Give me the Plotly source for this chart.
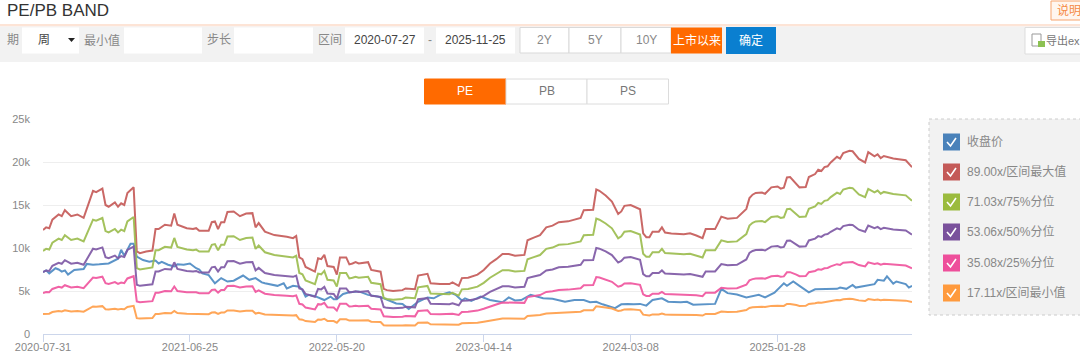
import plotly.graph_objects as go

# ---- data (values in thousands) ----
band_weeks = [0,1,2,3,5,6,7,9,11,13,
 16,17,19,20,21,23,24,25,26,27,
 29,30,31,33,35,36,37,39,41,42,
 43,46,48,49,50,53,54,55,56,57,
 58,59,61,63,65,67,68,69,71,74,
 78,80,81,82,83,84,87,88,89,90,
 91,93,94,95,97,98,99,100,101,104,
 105,108,109,110,112,115,116,119,120,123,
 124,127,130,131,133,134,136,139,141,143,
 145,147,149,151,154,155,157,159,161,163,
 165,168,172,173,176,177,178,180,182,184,
 185,186,188,191,192,193,194,195,197,198,
 199,201,205,207,209,211,212,215,217,219,
 222,225,226,227,228,230,231,233,235,236,
 237,238,239,241,242,244,245,247,248,249,
 250,251,252,254,255,256,258,259,261,263,
 264,266,267,268,269,272,275,276,278]
band_max = [12.1,12.4,12.3,13.3,13.9,13.7,14.4,13.7,13.9,13.5,
 16.65,16.5,16.9,15.0,14.8,15.3,14.8,15.2,15.0,16.4,
 17.05,9.6,9.4,9.6,9.7,12.2,12.2,12.7,12.6,14.0,
 12.7,12.3,12.2,12.3,12.0,12.0,13.0,13.1,12.2,13.0,
 13.0,14.2,14.25,13.7,14.0,14.05,12.4,12.9,11.9,11.5,
 11.3,11.15,11.4,8.9,8.7,7.8,7.25,8.8,8.7,9.2,
 7.9,7.8,6.9,8.9,8.9,8.1,8.2,8.35,8.2,8.35,
 7.45,7.25,5.25,5.1,5.0,5.1,5.3,5.2,6.8,7.0,
 5.9,5.8,5.8,6.0,5.6,6.5,6.55,6.9,7.45,8.2,
 8.7,9.3,9.3,9.1,9.2,10.9,11.2,11.5,12.4,12.6,
 13.0,13.1,13.5,14.4,14.45,16.8,16.65,16.1,15.4,13.95,
 14.25,14.9,15.0,14.5,11.7,11.25,11.25,11.9,11.9,12.4,
 11.8,11.7,11.6,11.7,11.45,11.15,12.2,12.2,13.65,13.4,
 13.5,14.55,15.8,16.2,16.4,16.45,16.3,17.05,17.15,16.9,
 17.0,18.2,18.25,17.5,17.05,17.1,18.25,18.6,19.1,18.95,
 19.4,19.5,19.95,20.6,20.4,21.05,21.3,21.25,20.35,19.95,
 21.15,20.65,20.9,20.45,20.7,20.4,20.25,20.2,19.4]
band_75 = [9.66,9.90,9.82,10.61,11.09,10.93,11.49,10.93,11.09,10.77,
 13.29,13.17,13.49,11.97,11.81,12.21,11.81,12.13,11.97,13.09,
 13.61,7.66,7.50,7.66,7.74,9.74,9.74,10.13,10.05,11.17,
 10.13,9.82,9.74,9.82,9.58,9.58,10.37,10.45,9.74,10.37,
 10.37,11.33,11.37,10.93,11.17,11.21,9.90,10.29,9.50,9.18,
 9.02,8.90,9.10,7.10,6.94,6.22,5.79,7.02,6.94,7.34,
 6.30,6.22,5.51,7.10,7.10,6.46,6.54,6.66,6.54,6.66,
 5.95,5.79,4.19,4.07,3.99,4.07,4.23,4.15,5.43,5.59,
 4.71,4.63,4.63,4.79,4.47,5.19,5.23,5.51,5.95,6.54,
 6.94,7.42,7.42,7.26,7.34,8.70,8.94,9.18,9.90,10.05,
 10.37,10.45,10.77,11.49,11.53,13.41,13.29,12.85,12.29,11.13,
 11.37,11.89,11.97,11.57,9.34,8.98,8.98,9.50,9.50,9.90,
 9.42,9.34,9.26,9.34,9.14,8.90,9.74,9.74,10.89,10.69,
 10.77,11.61,12.61,12.93,13.09,13.13,13.01,13.61,13.69,13.49,
 13.57,14.52,14.56,13.97,13.61,13.65,14.56,14.84,15.24,15.12,
 15.48,15.56,15.92,16.44,16.28,16.80,17.00,16.96,16.24,15.92,
 16.88,16.48,16.68,16.32,16.52,16.28,16.16,16.12,15.48]
band_50 = [7.21,7.39,7.33,7.93,8.28,8.17,8.58,8.17,8.28,8.05,
 9.92,9.83,10.07,8.94,8.82,9.12,8.82,9.06,8.94,9.77,
 10.16,5.72,5.60,5.72,5.78,7.27,7.27,7.57,7.51,8.34,
 7.57,7.33,7.27,7.33,7.15,7.15,7.75,7.81,7.27,7.75,
 7.75,8.46,8.49,8.17,8.34,8.37,7.39,7.69,7.09,6.85,
 6.73,6.65,6.79,5.30,5.19,4.65,4.32,5.24,5.19,5.48,
 4.71,4.65,4.11,5.30,5.30,4.83,4.89,4.98,4.89,4.98,
 4.44,4.32,3.13,3.04,2.98,3.04,3.16,3.10,4.05,4.17,
 3.52,3.46,3.46,3.58,3.34,3.87,3.90,4.11,4.44,4.89,
 5.19,5.54,5.54,5.42,5.48,6.50,6.68,6.85,7.39,7.51,
 7.75,7.81,8.05,8.58,8.61,10.01,9.92,9.60,9.18,8.31,
 8.49,8.88,8.94,8.64,6.97,6.71,6.71,7.09,7.09,7.39,
 7.03,6.97,6.91,6.97,6.82,6.65,7.27,7.27,8.14,7.99,
 8.05,8.67,9.42,9.66,9.77,9.80,9.71,10.16,10.22,10.07,
 10.13,10.85,10.88,10.43,10.16,10.19,10.88,11.09,11.38,11.29,
 11.56,11.62,11.89,12.28,12.16,12.55,12.69,12.67,12.13,11.89,
 12.61,12.31,12.46,12.19,12.34,12.16,12.07,12.04,11.56]
band_25 = [4.77,4.89,4.85,5.24,5.48,5.40,5.67,5.40,5.48,5.32,
 6.56,6.50,6.66,5.91,5.83,6.03,5.83,5.99,5.91,6.46,
 6.72,3.78,3.70,3.78,3.82,4.81,4.81,5.00,4.96,5.52,
 5.00,4.85,4.81,4.85,4.73,4.73,5.12,5.16,4.81,5.12,
 5.12,5.59,5.61,5.40,5.52,5.54,4.89,5.08,4.69,4.53,
 4.45,4.39,4.49,3.51,3.43,3.07,2.86,3.47,3.43,3.62,
 3.11,3.07,2.72,3.51,3.51,3.19,3.23,3.29,3.23,3.29,
 2.94,2.86,2.07,2.01,1.97,2.01,2.09,2.05,2.68,2.76,
 2.32,2.29,2.29,2.36,2.21,2.56,2.58,2.72,2.94,3.23,
 3.43,3.66,3.66,3.59,3.62,4.29,4.41,4.53,4.89,4.96,
 5.12,5.16,5.32,5.67,5.69,6.62,6.56,6.34,6.07,5.50,
 5.61,5.87,5.91,5.71,4.61,4.43,4.43,4.69,4.69,4.89,
 4.65,4.61,4.57,4.61,4.51,4.39,4.81,4.81,5.38,5.28,
 5.32,5.73,6.23,6.38,6.46,6.48,6.42,6.72,6.76,6.66,
 6.70,7.17,7.19,6.90,6.72,6.74,7.19,7.33,7.53,7.47,
 7.64,7.68,7.86,8.12,8.04,8.29,8.39,8.37,8.02,7.86,
 8.33,8.14,8.23,8.06,8.16,8.04,7.98,7.96,7.64]
band_min = [2.32,2.38,2.36,2.55,2.67,2.63,2.76,2.63,2.67,2.59,
 3.20,3.17,3.24,2.88,2.84,2.94,2.84,2.92,2.88,3.15,
 3.27,1.84,1.80,1.84,1.86,2.34,2.34,2.44,2.42,2.69,
 2.44,2.36,2.34,2.36,2.30,2.30,2.50,2.52,2.34,2.50,
 2.50,2.73,2.74,2.63,2.69,2.70,2.38,2.48,2.28,2.21,
 2.17,2.14,2.19,1.71,1.67,1.50,1.39,1.69,1.67,1.77,
 1.52,1.50,1.32,1.71,1.71,1.56,1.57,1.60,1.57,1.60,
 1.43,1.39,1.01,0.98,0.96,0.98,1.02,1.00,1.31,1.34,
 1.13,1.11,1.11,1.15,1.08,1.25,1.26,1.32,1.43,1.57,
 1.67,1.79,1.79,1.75,1.77,2.09,2.15,2.21,2.38,2.42,
 2.50,2.52,2.59,2.76,2.77,3.23,3.20,3.09,2.96,2.68,
 2.74,2.86,2.88,2.78,2.25,2.16,2.16,2.28,2.28,2.38,
 2.27,2.25,2.23,2.25,2.20,2.14,2.34,2.34,2.62,2.57,
 2.59,2.79,3.03,3.11,3.15,3.16,3.13,3.27,3.29,3.24,
 3.26,3.49,3.50,3.36,3.27,3.28,3.50,3.57,3.67,3.64,
 3.72,3.74,3.83,3.96,3.92,4.04,4.09,4.08,3.91,3.83,
 4.06,3.96,4.01,3.93,3.97,3.92,3.89,3.88,3.72]

close_weeks = [0,1,2,4,5,6,7,8,10,13,14,16,18,20,21,24,25,26,27,28,29,30,32,34,36,37,38,40,42,43,45,47,49,50,51,53,55,57,59,61,
 64,66,68,70,71,75,77,78,80,82,83,84,85,87,90,92,93,94,96,98,101,104,107,109,113,115,117,119,120,123,125,127,130,132,134,135,137,
 140,143,147,149,151,153,156,158,160,163,167,170,173,175,177,179,183,185,187,189,191,193,195,198,200,204,206,208,211,213,215,217,
 219,222,225,229,231,234,237,238,240,242,245,247,251,254,255,257,259,260,266,267,269,270,272,273,276,277,278]
close_price = [7.2,7.4,7.05,7.65,7.5,7.25,7.4,6.9,7.45,7.55,8.15,8.05,8.1,8.2,8.2,8.75,9.8,9.1,9.8,10.5,10.5,9.0,8.6,8.4,8.55,8.2,8.4,8.05,7.85,8.1,8.05,8.2,7.65,7.5,7.05,6.85,5.9,6.5,6.1,6.2,
 6.8,6.3,6.5,6.0,5.9,5.6,5.9,5.3,5.6,5.5,5.1,4.35,4.55,4.4,3.95,4.35,4.05,4.05,4.65,4.85,4.95,4.55,4.35,4.15,3.55,3.5,2.9,3.5,3.75,4.25,4.15,4.55,4.85,4.55,3.9,4.15,3.85,
 4.35,3.95,3.7,4.25,3.9,3.95,4.55,4.35,4.15,4.1,3.75,3.95,3.95,3.7,3.75,3.45,3.0,3.45,3.5,3.45,3.5,3.3,3.95,4.15,3.75,3.7,3.75,3.4,3.45,3.55,3.5,5.25,
 4.75,4.6,4.25,4.55,4.25,4.8,5.9,5.6,6.1,5.6,4.85,5.2,5.25,5.25,5.4,5.25,5.7,5.4,5.8,6.3,6.2,6.7,5.85,6.1,5.8,5.4,5.6]

tick_weeks = [0, 47, 94, 141, 188, 235]
tick_labels = ["2020-07-31", "2021-06-25", "2022-05-20", "2023-04-14", "2024-03-08", "2025-01-28"]
y_ticks = [0, 5, 10, 15, 20, 25]
y_labels = ["0", "5k", "10k", "15k", "20k", "25k"]

legend_names = ["收盘价", "89.00x/区间最大值", "71.03x/75%分位", "53.06x/50%分位", "35.08x/25%分位", "17.11x/区间最小值"]
line_colors = ["#4f8cc4", "#c65c5a", "#9dbd50", "#7f5aa6", "#f0569f", "#ff9f4a"]
box_colors = ["#4a82ba", "#c45a58", "#9bbb3e", "#7a519c", "#ee4f9b", "#ff9a3d"]

FONT = "Liberation Sans, Noto Sans CJK SC, sans-serif"
L, R, T, B = 43, 912, 119, 334
px = lambda v: (v - L) / (R - L)
py = lambda v: (B - v) / (B - T)

fig = go.Figure()
fig.add_trace(go.Scatter(x=close_weeks, y=close_price, name=legend_names[0]))
for name, ys in zip(legend_names[1:], [band_max, band_75, band_50, band_25, band_min]):
    fig.add_trace(go.Scatter(x=band_weeks, y=ys, name=name))
for tr, c in zip(fig.data, line_colors):
    tr.update(mode="lines", line=dict(color=c, width=2), opacity=0.92, hoverinfo="skip", showlegend=False)

shapes, notes = [], []

def box(x0, y0, x1, y1, fill, line=None, w=1, dash=None):
    shapes.append(dict(type="rect", xref="paper", yref="paper", x0=px(x0), x1=px(x1), y0=py(y0), y1=py(y1),
                       fillcolor=fill, line=dict(color=line or fill, width=w if line else 0, dash=dash), layer="above"))

def text(x, y, s, color="#777777", size=12, anchor="left"):
    notes.append(dict(xref="paper", yref="paper", x=px(x), y=py(y), text=s, showarrow=False, xanchor=anchor,
                      yanchor="middle", font=dict(family=FONT, size=size, color=color), borderpad=0, borderwidth=0))

def path(points, color=None, fill=None, w=2):
    d = "M " + " L ".join(f"{px(a):.5f},{py(b):.5f}" for a, b in points)
    if fill:
        d += " Z"
    shapes.append(dict(type="path", xref="paper", yref="paper", path=d, layer="above",
                       fillcolor=fill or "rgba(0,0,0,0)", line=dict(color=color or fill, width=w if color else 0)))

# header and toolbar
text(7, 10, "PE/PB BAND", "#333333", 17)
box(1051, 1, 1090, 20, "#fff6ef", "#f7a56f")
text(1057, 11, "说明", "#f58a45", 12)
box(0, 24, 1080, 26.5, "#fde4d6")
box(0, 26.5, 1080, 62, "#f2f2f2")
text(19, 40, "期", "#888888", 12, "right")
box(22, 27.5, 79, 53.5, "#ffffff")
text(44, 40, "周", "#444444", 12, "center")
path([(68, 38), (75, 38), (71.5, 42)], fill="#222222")
text(84, 40, "最小值", "#888888", 12)
box(124, 27.5, 202, 53.5, "#ffffff")
text(207, 40, "步长", "#888888", 12)
box(234, 27.5, 313, 53.5, "#ffffff")
text(318, 40, "区间", "#888888", 12)
box(345, 27.5, 424, 53.5, "#ffffff")
text(384.5, 40, "2020-07-27", "#444444", 12, "center")
text(430, 40, "-", "#888888", 12, "center")
box(436, 27.5, 515, 53.5, "#ffffff")
text(475.5, 40, "2025-11-25", "#444444", 12, "center")
for x0, x1, s in [(520, 569, "2Y"), (569, 621, "5Y"), (621, 671, "10Y")]:
    box(x0, 27.5, x1, 53, "#ffffff", "#d9d9d9")
    text((x0 + x1) / 2, 40, s, "#888888", 12, "center")
box(671, 27.5, 722, 53.5, "#ff6a00")
text(696.5, 40, "上市以来", "#ffffff", 12, "center")
box(726, 27, 776, 54, "#0a7fd0")
text(751, 40, "确定", "#ffffff", 12, "center")
box(1025, 27.5, 1090, 54, "#ffffff", "#dddddd")
box(1032, 34, 1041, 46, "#ffffff", "#999999")
box(1038, 41, 1045, 47, "#8cc152")
text(1045.5, 40, "导出ex", "#777777", 11)

# PE / PB / PS tabs
box(424.5, 79, 506, 104, "#ff6a00", "#ff6a00")
text(465, 91, "PE", "#ffffff", 12, "center")
box(506, 79, 587, 104, "#ffffff", "#dcdcdc")
text(546.5, 91, "PB", "#777777", 12, "center")
box(587, 79, 668.5, 104, "#ffffff", "#dcdcdc")
text(627.5, 91, "PS", "#777777", 12, "center")

# legend panel
box(929, 119, 1090, 315, "#f2f2f2", "#cccccc", 1, "dot")
for name, col, yc in zip(legend_names, box_colors, [142, 172, 202, 232, 263, 293]):
    box(943, yc - 8.5, 960, yc + 8.5, col)
    path([(947, yc), (950.5, yc + 4), (956, yc - 4)], color="#ffffff", w=1.6)
    text(967, yc - 1, name, "#888888", 12)

fig.update_layout(
    width=1080, height=362, autosize=False,
    margin=dict(l=L, r=1080 - R, t=T, b=362 - B, pad=0),
    paper_bgcolor="#ffffff", plot_bgcolor="#ffffff",
    showlegend=False, shapes=shapes, annotations=notes,
    font=dict(family=FONT, size=11, color="#888888"),
    xaxis=dict(range=[0, 278], tickmode="array", tickvals=tick_weeks, ticktext=tick_labels, showgrid=False,
               zeroline=False, showline=True, linecolor="#ccd6eb", linewidth=1, ticks="outside", ticklen=7,
               tickcolor="#ccd6eb", tickfont=dict(size=11, color="#888888"), automargin=False, ticklabelstandoff=-4),
    yaxis=dict(range=[0, 25], tickmode="array", tickvals=y_ticks, ticktext=y_labels, showgrid=True,
               gridcolor="#eeeeee", gridwidth=1, zeroline=False, showline=False, ticks="",
               tickfont=dict(size=11, color="#888888"), automargin=False, ticklabelstandoff=12),
)
assert len(band_weeks) == len(band_max) == len(band_75) == len(band_50) == len(band_25) == len(band_min)
assert len(close_weeks) == len(close_price)

fig.write_html("out.html", config={"displayModeBar": False},
               post_script="document.body.style.margin='0';document.documentElement.style.overflow='hidden';")
